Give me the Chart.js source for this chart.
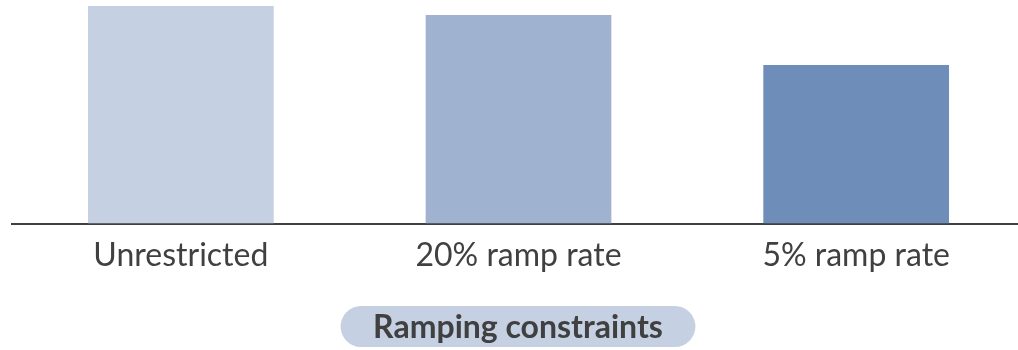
<!DOCTYPE html>
<html>
<head>
<meta charset="utf-8">
<script src="https://cdn.jsdelivr.net/npm/chart.js@4/dist/chart.umd.min.js"></script>
<style>
  html, body { margin: 0; padding: 0; background: #ffffff; overflow: hidden; }
  #wrap { position: relative; width: 1025px; height: 350px; }
</style>
</head>
<body>
<div id="wrap"><canvas id="chart"></canvas></div>
<script>
// Relative output under each ramping constraint (unrestricted = 100)
const categories = ["Unrestricted", "20% ramp rate", "5% ramp rate"];
const values = [100, 95.9, 72.9];
const barColors = ["#c5d0e2", "#9fb2cf", "#6e8db9"];
const axisTitle = "Ramping constraints";

// Rounded pill behind the axis title
const pillTitle = {
  id: "pillTitle",
  afterDraw(chart) {
    const ctx = chart.ctx;
    const cx = (chart.chartArea.left + chart.chartArea.right) / 2 - 0.5;
    const cy = 326.5;
    ctx.save();
    ctx.font = "bold 32px Lato";
    const w = ctx.measureText(axisTitle).width;
    const padX = 32.5, h = 41, r = h / 2;
    const x0 = cx - w / 2 - padX, x1 = cx + w / 2 + padX;
    ctx.fillStyle = "#c5d0e2";
    ctx.beginPath();
    ctx.moveTo(x0 + r, cy - r);
    ctx.lineTo(x1 - r, cy - r);
    ctx.arc(x1 - r, cy, r, -Math.PI / 2, Math.PI / 2);
    ctx.lineTo(x0 + r, cy + r);
    ctx.arc(x0 + r, cy, r, Math.PI / 2, Math.PI * 1.5);
    ctx.closePath();
    ctx.fill();
    ctx.fillStyle = "#404040";
    ctx.textAlign = "center";
    ctx.textBaseline = "middle";
    ctx.fillText(axisTitle, cx, cy + 1);
    ctx.restore();
  }
};

new Chart(document.getElementById("chart"), {
  type: "bar",
  data: {
    labels: categories,
    datasets: [{
      data: values,
      backgroundColor: barColors,
      borderWidth: 0,
      barPercentage: 0.55,
      categoryPercentage: 1.0
    }]
  },
  options: {
    responsive: true,
    maintainAspectRatio: false,
    animation: false,
    layout: { padding: { left: 12, right: 0, top: 0, bottom: 62 } },
    plugins: { legend: { display: false }, tooltip: { enabled: false } },
    scales: {
      x: {
        grid: { display: true, color: "transparent", drawTicks: false },
        border: { display: true, color: "#404040", width: 2 },
        ticks: { color: "#404040", font: { family: "Lato", size: 32 }, padding: 13 }
      },
      y: {
        display: false,
        min: 0,
        max: 102.75
      }
    }
  },
  plugins: [pillTitle]
});
</script>
</body>
</html>
